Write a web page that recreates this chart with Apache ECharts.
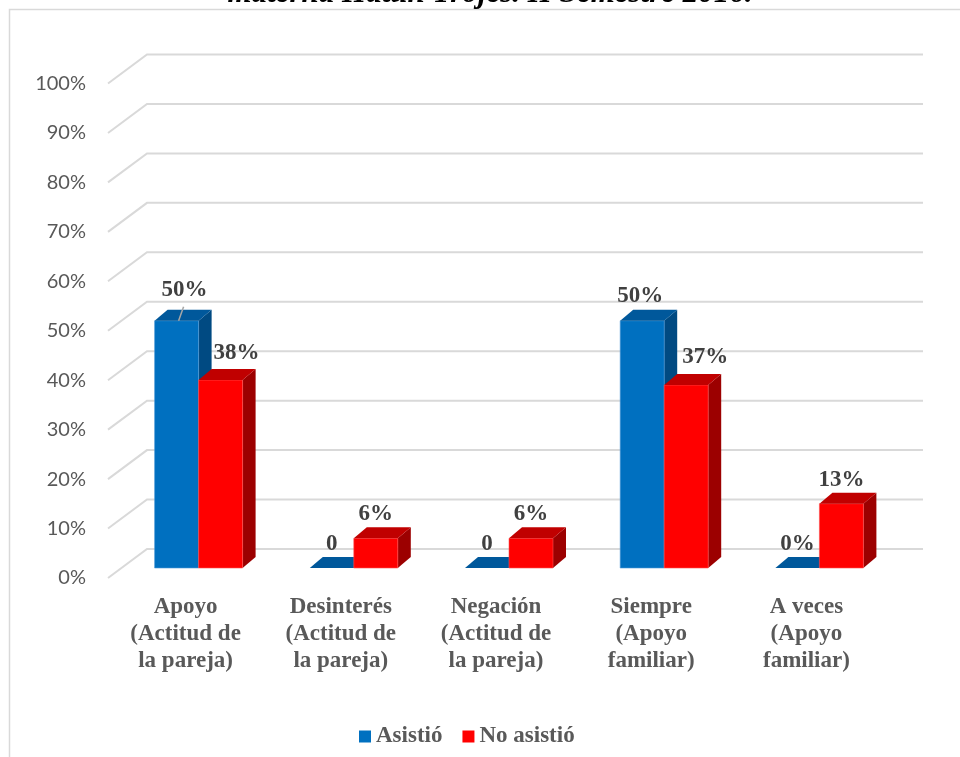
<!DOCTYPE html>
<html>
<head>
<meta charset="utf-8">
<script src="https://cdn.jsdelivr.net/npm/echarts/dist/echarts.min.js"></script>
<style>
  html, body { margin: 0; padding: 0; background: #ffffff; }
  #chart { width: 960px; height: 757px; }
</style>
</head>
<body>
<div id="chart"></div>
<script>
// ---- data ----
const categories = [
  'Apoyo\n(Actitud de\nla pareja)',
  'Desinterés\n(Actitud de\nla pareja)',
  'Negación\n(Actitud de\nla pareja)',
  'Siempre\n(Apoyo\nfamiliar)',
  'A veces\n(Apoyo\nfamiliar)'
];
const asistio = [50, 0, 0, 50, 0];
const noAsistio = [38, 6, 6, 37, 13];
const asistioLabels = ['50%', '0', '0', '50%', '0%'];
const noAsistioLabels = ['38%', '6%', '6%', '37%', '13%'];
const yTicks = [0, 10, 20, 30, 40, 50, 60, 70, 80, 90, 100];
const seriesNames = ['Asistió', 'No asistió'];
const titleText = 'materna Hatun Trojes. II Semestre 2016.';

// ---- 3D look: oblique offsets (pixels) ----
const WALL_DX = 39, WALL_DY = -29;   // front floor edge -> back wall
const BAR_OX = 13, BAR_OY = -10;     // bars sit a little behind the front edge
const BAR_DX = 13, BAR_DY = -11;     // bar depth
const BAR_FRAC = 0.2835;             // width of one bar relative to the category band
const LABEL_RAISE = 24;

// label placement tweaks, per series and category: [dx, dy, leaderLine]
const labelNudge = [
  { 0: [8, -7, true], 3: [-2, -1, false] },
  { 0: [16, -3, false], 3: [19, -4, false] }
];

const palette = [
  { front: '#0070C0', top: '#00589B', side: '#004A82', edge: '#4F9BD8' },
  { front: '#FF0000', top: '#C00000', side: '#9C0000', edge: '#FF5050' }
];

const labelFont = 'bold 23px "Liberation Serif", "Times New Roman", serif';

function barRenderer(s, labels) {
  const c = palette[s];
  return function (params, api) {
    const i = api.value(0);
    const v = api.value(1);
    const base = api.coord([i, 0]);
    const top = api.coord([i, v]);
    const band = api.size([1, 0])[0];
    const w = band * BAR_FRAC;
    const x0 = base[0] + BAR_OX - (s === 0 ? w : 0);
    const x1 = x0 + w;
    const yb = base[1] + BAR_OY;
    const yt = top[1] + BAR_OY;
    const cx = (x0 + x1) / 2;
    const n = labelNudge[s][i] || [0, 0, false];
    const children = [
      { type: 'polygon',
        shape: { points: [[x1, yb], [x1 + BAR_DX, yb + BAR_DY], [x1 + BAR_DX, yt + BAR_DY], [x1, yt]] },
        style: { fill: c.side } },
      { type: 'rect',
        shape: { x: x0, y: yt, width: w, height: Math.max(yb - yt, 0) },
        style: { fill: c.front, stroke: yb - yt > 1 ? c.edge : null, lineWidth: 0.6 } },
      { type: 'polygon',
        shape: { points: [[x0, yt], [x0 + BAR_DX, yt + BAR_DY], [x1 + BAR_DX, yt + BAR_DY], [x1, yt]] },
        style: { fill: c.top } },
      { type: 'text', z2: 100,
        style: { text: labels[i], x: cx + n[0], y: yt - LABEL_RAISE + n[1],
                 align: 'center', verticalAlign: 'middle', font: labelFont, fill: '#404040' } }
    ];
    if (n[2]) {
      children.push({ type: 'line', z2: 99,
        shape: { x1: cx + 2, y1: yt, x2: cx + 7, y2: yt - 14 },
        style: { stroke: '#A6A6A6', lineWidth: 1.5 } });
    }
    return { type: 'group', children: children };
  };
}

function gridRenderer(params, api) {
  const v = api.value(1);
  const p = api.coord([0, v]);
  const band = api.size([1, 0])[0];
  const left = p[0] - band / 2;
  const right = left + band * categories.length;
  return {
    type: 'polyline',
    shape: { points: [[left, p[1]], [left + WALL_DX, p[1] + WALL_DY], [right + WALL_DX, p[1] + WALL_DY]] },
    style: { stroke: '#D9D9D9', lineWidth: 2, fill: null }
  };
}

const chart = echarts.init(document.getElementById('chart'), null, { renderer: 'canvas' });

chart.setOption({
  animation: false,
  backgroundColor: '#ffffff',
  graphic: [
    { type: 'rect', shape: { x: 9.5, y: 9.5, width: 1000, height: 800 },
      style: { fill: null, stroke: '#D9D9D9', lineWidth: 1.5 }, silent: true },
    { type: 'text', x: 490, y: -6,
      style: { text: titleText, align: 'center', verticalAlign: 'middle',
               font: 'italic bold 31px "Liberation Serif", "Times New Roman", serif', fill: '#000000' } }
  ],
  grid: { left: 108, right: 76, top: 83.5, bottom: 179, containLabel: false },
  legend: {
    data: seriesNames,
    left: 359, top: 725, padding: 0,
    icon: 'rect', itemWidth: 12, itemHeight: 12, itemGap: 20,
    textStyle: { fontFamily: '"Liberation Serif", "Times New Roman", serif', fontWeight: 'bold',
                 fontSize: 23, color: '#595959' }
  },
  xAxis: {
    type: 'category',
    data: categories,
    axisLine: { show: false }, axisTick: { show: false }, splitLine: { show: false },
    axisLabel: {
      interval: 0, margin: 16, lineHeight: 27,
      fontFamily: '"Liberation Serif", "Times New Roman", serif', fontWeight: 'bold',
      fontSize: 23, color: '#595959'
    }
  },
  yAxis: {
    type: 'value', min: 0, max: 100, interval: 10,
    axisLine: { show: false }, axisTick: { show: false }, splitLine: { show: false },
    axisLabel: { formatter: '{value}%', margin: 22, fontFamily: 'Lato', fontSize: 20, color: '#595959' }
  },
  series: [
    { type: 'custom', silent: true, z: 1, clip: false,
      data: yTicks.map(t => [0, t]), encode: { x: 0, y: 1 },
      renderItem: gridRenderer },
    { type: 'custom', name: seriesNames[0], z: 2, clip: false,
      itemStyle: { color: palette[0].front },
      data: asistio.map((v, i) => [i, v]), encode: { x: 0, y: 1 },
      renderItem: barRenderer(0, asistioLabels) },
    { type: 'custom', name: seriesNames[1], z: 2, clip: false,
      itemStyle: { color: palette[1].front },
      data: noAsistio.map((v, i) => [i, v]), encode: { x: 0, y: 1 },
      renderItem: barRenderer(1, noAsistioLabels) }
  ]
});
</script>
</body>
</html>
